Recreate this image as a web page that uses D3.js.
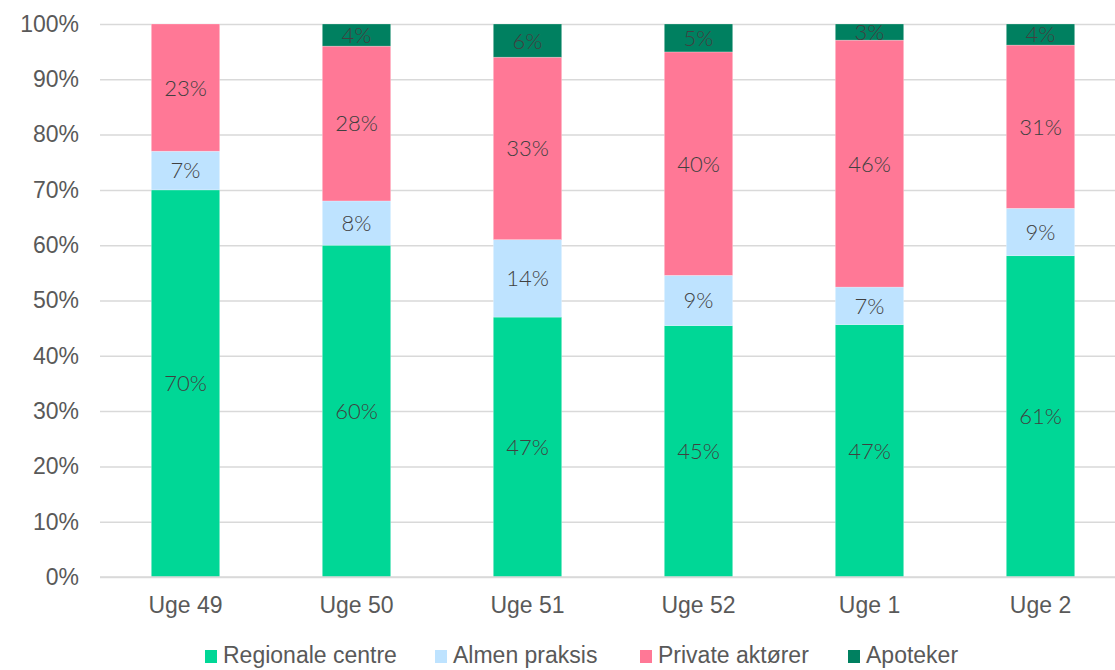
<!DOCTYPE html>
<html>
<head>
<meta charset="utf-8">
<script src="https://cdn.jsdelivr.net/npm/d3@7"></script>
<style>
  body { margin: 0; background: #fff; }
  svg { display: block; }
</style>
</head>
<body>
<svg id="chart" width="1115" height="670"></svg>
<script>
// DATA
const weeks = ["Uge 49", "Uge 50", "Uge 51", "Uge 52", "Uge 1", "Uge 2"];
const seriesNames = ["Regionale centre", "Almen praksis", "Private aktører", "Apoteker"];
const regionale = [70, 60, 47, 45, 47, 61];
const almen = [7, 8, 14, 9, 7, 9];
const privat = [23, 28, 33, 40, 46, 31];
const apoteker = [0, 4, 6, 5, 3, 4];
const yTicks = [0, 0.1, 0.2, 0.3, 0.4, 0.5, 0.6, 0.7, 0.8, 0.9, 1];

const colors = ["#00d796", "#bee3ff", "#ff7896", "#008060"];
const seriesValues = [regionale, almen, privat, apoteker];

const rows = weeks.map((w, i) => {
  const row = { week: w };
  seriesNames.forEach((s, j) => { row[s] = seriesValues[j][i]; });
  return row;
});

const margin = { top: 24, left: 100 };
const plotW = 1026;
const plotH = 553;
const axisFont = "'Liberation Sans', Arial, sans-serif";
const axisSize = "23px";

const svg = d3.select("#chart");
const g = svg.append("g").attr("transform", `translate(${margin.left},${margin.top})`);

// SCALES
const xScale = d3.scaleBand().domain(weeks).range([0, plotW]).paddingInner(0.6).paddingOuter(0.3);
const yScale = d3.scaleLinear().domain([0, 1]).range([plotH, 0]);
const colorScale = d3.scaleOrdinal().domain(seriesNames).range(colors);

const stacked = d3.stack().keys(seriesNames).offset(d3.stackOffsetExpand)(rows);

// GRIDLINES + Y AXIS
const yAxis = d3.axisLeft(yScale).tickValues(yTicks).tickSize(-plotW).tickPadding(21)
  .tickFormat(d3.format(".0%"));
g.append("g").attr("class", "y-axis").call(yAxis)
  .call(s => s.select(".domain").remove())
  .call(s => s.selectAll("line").attr("stroke", "#d9d9d9").attr("stroke-width", 1.5))
  .call(s => s.selectAll("text")
    .attr("fill", "#595959")
    .style("font-family", axisFont)
    .style("font-size", axisSize));

// BARS
const layers = g.append("g").selectAll("g").data(stacked).join("g")
  .attr("fill", d => colorScale(d.key));

layers.selectAll("rect").data(d => d).join("rect")
  .attr("x", d => xScale(d.data.week))
  .attr("width", xScale.bandwidth())
  .attr("y", d => yScale(d[1]))
  .attr("height", d => yScale(d[0]) - yScale(d[1]))
  .attr("stroke", "#ffffff")
  .attr("stroke-opacity", 0.4)
  .attr("stroke-width", 0.6);

// DATA LABELS
layers.each(function (layer) {
  d3.select(this).selectAll("text").data(layer.filter(d => d.data[layer.key] > 0)).join("text")
    .attr("x", d => xScale(d.data.week) + xScale.bandwidth() / 2)
    .attr("y", d => yScale((d[0] + d[1]) / 2))
    .attr("dy", "0.36em")
    .attr("text-anchor", "middle")
    .attr("fill", "#404040")
    .style("font-family", "Lato, 'Noto Sans', sans-serif")
    .style("font-weight", 300)
    .style("font-size", "22px")
    .text(d => d.data[layer.key] + "%");
});

// X AXIS
const xAxisG = g.append("g").attr("transform", `translate(0,${plotH})`);
xAxisG.append("line")
  .attr("x1", 0).attr("x2", plotW)
  .attr("stroke", "#d9d9d9").attr("stroke-width", 1.5);
xAxisG.selectAll("text").data(weeks).join("text")
  .attr("x", d => xScale(d) + xScale.bandwidth() / 2)
  .attr("y", 36)
  .attr("text-anchor", "middle")
  .attr("fill", "#595959")
  .style("font-family", axisFont)
  .style("font-size", axisSize)
  .text(d => d);

// LEGEND
const legendX = [205, 435, 640, 848];
const legend = svg.append("g").selectAll("g").data(seriesNames).join("g")
  .attr("transform", (d, i) => `translate(${legendX[i]},663)`);
legend.append("rect")
  .attr("x", 0).attr("y", -13).attr("width", 12).attr("height", 13)
  .attr("fill", d => colorScale(d));
legend.append("text")
  .attr("x", 18)
  .attr("fill", "#595959")
  .style("font-family", axisFont)
  .style("font-size", axisSize)
  .text(d => d);
</script>
</body>
</html>
